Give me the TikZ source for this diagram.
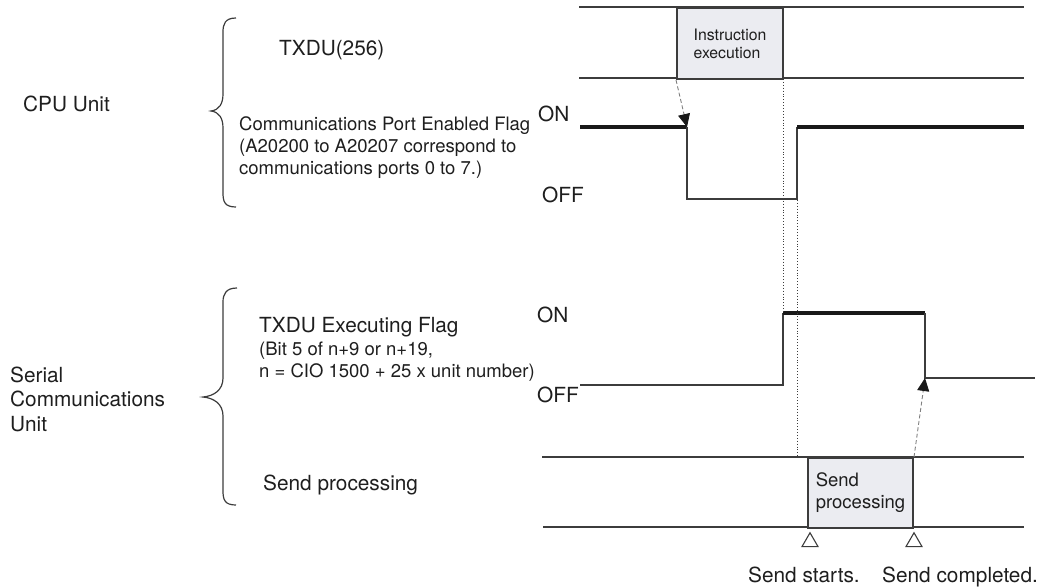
\documentclass[tikz,border=0pt]{standalone}
\usepackage{fontspec}
\setmainfont{TeX Gyre Heros}
\usetikzlibrary{arrows.meta,positioning,shapes.geometric}
\definecolor{linegray}{RGB}{60,60,60}
\definecolor{boxgray}{RGB}{235,236,241}
\definecolor{txtgray}{RGB}{30,30,30}
\newcommand{\bigtxt}{\fontsize{20.8}{24.5}\selectfont}
\newcommand{\smalltxt}{\fontsize{18.5}{22}\selectfont}
\newcommand{\tinytxt}{\fontsize{15.8}{18}\selectfont}

\begin{document}
\begin{tikzpicture}[x=1pt,y=-1pt,
  every node/.style={inner sep=0pt,text=txtgray},
  lbl/.style={anchor=base west,align=left,font=\bigtxt},
  note/.style={anchor=base west,align=left,font=\smalltxt},
  sig/.style={draw=linegray,line width=1.2pt},
  sighi/.style={draw=black!90,line width=3.4pt},
  guide/.style={draw=linegray,line width=0.9pt,dotted},
  cause/.style={draw=gray,line width=0.9pt,dash pattern=on 4pt off 2.5pt,-{Triangle[length=13pt,width=12pt,color=black!90]}},
  procbox/.style={draw=linegray,line width=2pt,fill=boxgray,align=left,anchor=north west},
  tick/.style={regular polygon,regular polygon sides=3,draw=linegray,line width=1.1pt,fill=white,minimum size=18.5pt}]
\useasboundingbox (0,0) rectangle (1040,587);

% CPU Unit side (multi-line labels sit on their last baseline)
\node[lbl] (cpuunit) at (23,111) {CPU Unit};
\draw[sig] (236,18) .. controls (225,18) and (223,24) .. (223,32) -- (223,94) .. controls (223,104) and (219,110) .. (211,111) .. controls (219,112) and (223,118) .. (223,128) -- (223,193) .. controls (223,202) and (225,207) .. (236,207);
\node[lbl] (txdu) at (279,55) {TXDU(256)};
\node[note] (portflag) at (239,174) {Communications Port Enabled Flag\\(A20200 to A20207 correspond to\\communications ports 0 to 7.)};
\node[lbl] (cpuon) at (538,121) {ON};
\node[lbl] (cpuoff) at (542,202) {OFF};

% instruction row
\draw[sig] (579,7) -- (1024,7);
\draw[sig] (579,78) -- (1024,78);
\node[procbox,minimum width=106pt,minimum height=71pt,font=\tinytxt] (instr) at (676,7) {Instruction\\execution};

% port enabled flag
\coordinate (cpufall) at (687,127);
\coordinate (cpurise) at (797,127);
\draw[sighi] (580,127) -- (cpufall);
\draw[sig] (cpufall) -- (687,199) -- (797,199) -- (cpurise);
\draw[sighi] (cpurise) -- (1024,127);
\draw[cause] (instr.south west) -- (cpufall);

% Serial Communications Unit side
\node[lbl] (scu) at (10,431) {Serial\\Communications\\Unit};
\draw[sig] (237,288) .. controls (226,288) and (223,294) .. (223,302) -- (223,378) .. controls (223,390) and (214,396) .. (203,397) .. controls (214,398) and (223,404) .. (223,416) -- (223,491) .. controls (223,500) and (225,505) .. (236,505);
\node[lbl] (execflag) at (259,332) {TXDU Executing Flag};
\node[note] (execbit) at (259,377) {(Bit 5 of n+9 or n+19,\\n = CIO 1500 + 25 x unit number)};
\node[lbl] (scuon) at (537,322) {ON};
\node[lbl] (scuoff) at (537,402) {OFF};
\node[lbl] (sendlbl) at (263,490) {Send processing};

% executing flag
\coordinate (exrise) at (783,313);
\coordinate (exfall) at (925,313);
\coordinate (exlow) at (925,378);
\draw[sig] (580,385) -- (783,385) -- (exrise);
\draw[sighi] (exrise) -- (exfall);
\draw[sig] (exfall) -- (exlow) -- (1035,378);

% send processing row
\draw[sig] (542,457) -- (1024,457);
\draw[sig] (543,527) -- (1024,527);
\node[procbox,minimum width=105pt,minimum height=70pt,font=\smalltxt] (send) at (807,457) {Send\\processing};
\draw[cause] (send.north east) -- (exlow);

% timing marks
\draw[guide] (783,79) -- (exrise);
\draw[guide] (797,200) -- (797,456);
\node[tick] (tstart) at (810,542) {};
\node[tick] (tdone) at (914,542) {};
\node[lbl] (startlbl) at (748,582) {Send starts.};
\node[lbl] (donelbl) at (882,582) {Send completed.};
\end{tikzpicture}
\end{document}
